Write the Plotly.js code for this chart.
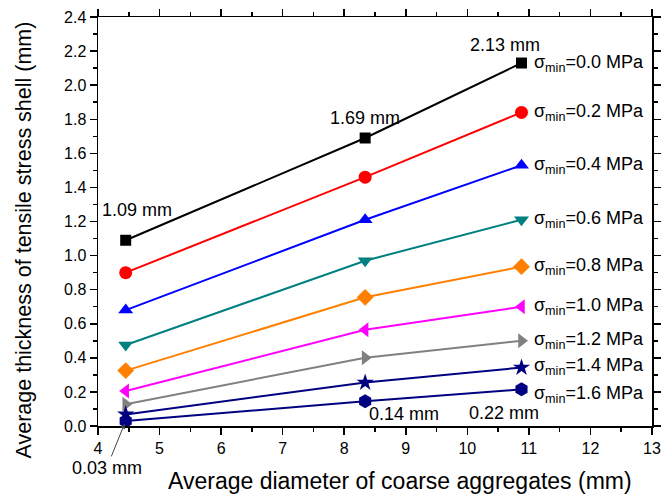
<!DOCTYPE html>
<html><head><meta charset="utf-8">
<script src="https://cdn.plot.ly/plotly-3.0.1.min.js"></script>
<style>body{margin:0;padding:0;background:#fff}#c{width:662px;height:494px}</style>
</head><body><div id="c"></div>
<script>
const diameters = [4.45, 8.34, 10.88];
const stressLabels = ["0.0","0.2","0.4","0.6","0.8","1.0","1.2","1.4","1.6"];
const s00 = [1.09, 1.69, 2.13];
const s02 = [0.90, 1.46, 1.84];
const s04 = [0.68, 1.21, 1.53];
const s06 = [0.475, 0.97, 1.21];
const s08 = [0.325, 0.755, 0.935];
const s10 = [0.205, 0.565, 0.70];
const s12 = [0.128, 0.40, 0.50];
const s14 = [0.068, 0.255, 0.343];
const s16 = [0.03, 0.145, 0.215];
const seriesValues = [s00,s02,s04,s06,s08,s10,s12,s14,s16];
const colors = ["#000000","#FF0000","#0000FF","#008080","#FF8000","#FF00FF","#808080","#000080","#000080"];
const symbols = ["square","circle","triangle-up","triangle-down","diamond","triangle-left","triangle-right","star","hexagon"];
const sizes = [11,13,13,13,13,13,13,13,14];
const labelShift = [0,0,0,0,0,0,0,1,-5];
const F = "'Liberation Sans', Arial, sans-serif";
const traces = seriesValues.map((v,i)=>({
  x: diameters, y: v, type:'scatter', mode:'lines+markers',
  line:{color:colors[i], width:2},
  marker:{symbol:symbols[i], color:colors[i], size:sizes[i]},
  showlegend:false, cliponaxis:false
}));
const ann = [];
seriesValues.forEach((v,i)=>{
  ann.push({x:diameters[2], y:v[2], xref:'x', yref:'y', xanchor:'left', yanchor:'middle',
    xshift:10, yshift:labelShift[i], showarrow:false,
    text:"σ<sub>min</sub>=" + stressLabels[i] + " MPa", font:{family:F, size:18, color:'#000'}});
});
const noteFont = {family:F, size:18, color:'#000'};
ann.push({x:diameters[2], y:s00[2], xref:'x', yref:'y', text:"2.13 mm", showarrow:false, xshift:-17, yshift:18, font:noteFont});
ann.push({x:diameters[1], y:s00[1], xref:'x', yref:'y', text:"1.69 mm", showarrow:false, xshift:0, yshift:20, font:noteFont});
ann.push({x:diameters[0], y:s00[0], xref:'x', yref:'y', text:"1.09 mm", showarrow:false, xshift:11, yshift:30, font:noteFont});
ann.push({x:diameters[1], y:s16[1], xref:'x', yref:'y', text:"0.14 mm", showarrow:false, xshift:39, yshift:-13, font:noteFont});
ann.push({x:diameters[2], y:s16[2], xref:'x', yref:'y', text:"0.22 mm", showarrow:false, xshift:-18, yshift:-24, font:noteFont});
ann.push({x:diameters[0], y:s16[0], xref:'x', yref:'y', text:"0.03 mm", showarrow:true, arrowhead:2, arrowsize:1, arrowwidth:1,
  ax:-19, ay:47, standoff:3, font:noteFont});
ann.push({x:0.5, y:0, xref:'paper', yref:'paper', xanchor:'center', yanchor:'top', yshift:-40, xshift:25, showarrow:false,
  text:"Average diameter of coarse aggregates (mm)", font:{family:F, size:23, color:'#000'}});
ann.push({x:0, y:0.5, xref:'paper', yref:'paper', xanchor:'center', yanchor:'middle', xshift:-75, yshift:-19, showarrow:false, textangle:-90,
  text:"Average thickness of tensile stress shell (mm)", font:{family:F, size:21.5, color:'#000'}});
const axBase = {showgrid:false, zeroline:false, showline:true, linecolor:'#000', linewidth:1.5, mirror:'ticks',
  ticks:'outside', ticklen:7, tickwidth:1.5, tickcolor:'#000', tickfont:{family:F, size:16, color:'#000'}};
const layout = {
  width:662, height:494, margin:{l:98, r:10, t:17, b:68},
  paper_bgcolor:'#fff', plot_bgcolor:'#fff',
  xaxis: Object.assign({}, axBase, {range:[4,13], dtick:1, tick0:4,
    minor:{dtick:0.5, ticklen:4, tickwidth:1.5, ticks:'outside', tickcolor:'#000'}}),
  yaxis: Object.assign({}, axBase, {range:[0,2.4], dtick:0.2, tick0:0, tickformat:'.1f',
    minor:{dtick:0.1, ticklen:4, tickwidth:1.5, ticks:'outside', tickcolor:'#000'}}),
  annotations: ann
};
Plotly.newPlot('c', traces, layout, {staticPlot:true});
</script></body></html>
